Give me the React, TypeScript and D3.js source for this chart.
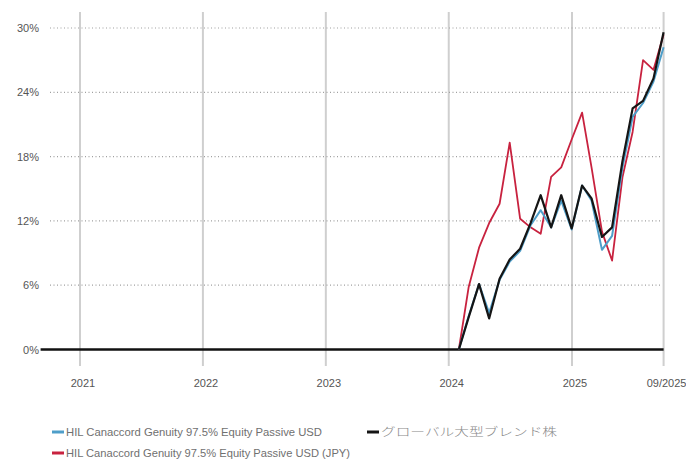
import { useEffect, useRef } from 'react';
import * as d3 from 'd3';

// month-end dates, Jan 2024 .. Sep 2025
const months: string[] = [
  '2024-01-31', '2024-02-29', '2024-03-31', '2024-04-30', '2024-05-31', '2024-06-30',
  '2024-07-31', '2024-08-31', '2024-09-30', '2024-10-31', '2024-11-30', '2024-12-31',
  '2025-01-31', '2025-02-28', '2025-03-31', '2025-04-30', '2025-05-31', '2025-06-30',
  '2025-07-31', '2025-08-31', '2025-09-30',
];

const fundUsd: number[] = [0, 3.1, 6.1, 3.4, 6.5, 8.2, 9.2, 11.6, 13.0, 11.4, 13.9, 11.2, 15.3, 13.9, 9.3, 10.6, 17.0, 21.7, 23.0, 25.0, 28.2];
const fundJpy: number[] = [0, 5.8, 9.5, 11.8, 13.6, 19.3, 12.2, 11.4, 10.8, 16.1, 17.0, 19.6, 22.1, 17.0, 11.0, 8.3, 16.1, 20.3, 27.0, 26.1, 29.4];
const peerGroup: number[] = [0, 3.0, 6.1, 2.9, 6.6, 8.4, 9.4, 11.8, 14.4, 11.4, 14.4, 11.3, 15.3, 14.1, 10.5, 11.4, 17.6, 22.5, 23.2, 25.3, 29.6];

const yTicks: number[] = [0, 6, 12, 18, 24, 30];
const xTicks: string[] = ['2021-01-01', '2022-01-01', '2023-01-01', '2024-01-01', '2025-01-01', '2025-09-30'];
const xTickLabels: string[] = ['2021', '2022', '2023', '2024', '2025', '09/2025'];

const legendNames = {
  usd: 'HIL Canaccord Genuity 97.5% Equity Passive USD',
  jpy: 'HIL Canaccord Genuity 97.5% Equity Passive USD (JPY)',
  peer: 'グローバル大型ブレンド株',
};

const App = () => {
  const ref = useRef<SVGSVGElement | null>(null);

  useEffect(() => {
    const width = 686;
    const height = 463;
    const font = '"Liberation Sans Narrow", "Liberation Sans", Arial, sans-serif';

    const svg = d3.select(ref.current);
    svg.selectAll('*').remove();
    svg.attr('width', width).attr('height', height);

    const parse = d3.utcParse('%Y-%m-%d');
    const x = d3.scaleUtc()
      .domain([parse('2021-01-01')!, parse('2025-01-01')!])
      .range([80, 572]);
    const y = d3.scaleLinear().domain([0, 30]).range([349.5, 28]);

    const xStart = x(parse('2020-09-06')!);
    const xEnd = x(parse('2025-09-30')!);

    // vertical grid (year lines)
    svg.append('g')
      .selectAll('line')
      .data(xTicks)
      .join('line')
      .attr('x1', d => x(parse(d)!))
      .attr('x2', d => x(parse(d)!))
      .attr('y1', 12)
      .attr('y2', 366)
      .attr('stroke', '#cfcfcf')
      .attr('stroke-width', 2);

    // horizontal dotted grid
    svg.append('g')
      .selectAll('line')
      .data(yTicks.filter(d => d > 0))
      .join('line')
      .attr('x1', 50)
      .attr('x2', xEnd - 2)
      .attr('y1', d => y(d))
      .attr('y2', d => y(d))
      .attr('stroke', '#a0a0a0')
      .attr('stroke-width', 1.2)
      .attr('stroke-dasharray', '1 2.5');

    // y labels
    svg.append('g')
      .selectAll('text')
      .data(yTicks)
      .join('text')
      .attr('x', 39)
      .attr('y', d => y(d) + 4)
      .attr('text-anchor', 'end')
      .attr('font-family', font)
      .attr('font-size', 11)
      .attr('fill', '#555')
      .text(d => `${d}%`);

    // x labels
    svg.append('g')
      .selectAll('text')
      .data(xTicks)
      .join('text')
      .attr('x', d => x(parse(d)!) + 3)
      .attr('y', 387)
      .attr('text-anchor', 'middle')
      .attr('font-family', font)
      .attr('font-size', 11)
      .attr('fill', '#555')
      .text((d, i) => xTickLabels[i]);

    // zero line
    svg.append('line')
      .attr('x1', xStart)
      .attr('x2', xEnd)
      .attr('y1', y(0))
      .attr('y2', y(0))
      .attr('stroke', '#111')
      .attr('stroke-width', 2.5);

    const dates = months.map(d => parse(d)!);
    const line = d3.line<number>()
      .x((d, i) => x(dates[i]))
      .y(d => y(d));

    const series = [
      { values: fundJpy, color: '#c8223f', w: 1.8 },
      { values: fundUsd, color: '#4e9ec9', w: 2 },
      { values: peerGroup, color: '#151515', w: 2.2 },
    ];
    series.forEach(s => {
      svg.append('path')
        .datum(s.values)
        .attr('d', line)
        .attr('fill', 'none')
        .attr('stroke', s.color)
        .attr('stroke-width', s.w)
        .attr('stroke-linejoin', 'round');
    });

    // legend
    const legend = [
      { name: legendNames.usd, color: '#4e9ec9', x: 52, y: 432, len: 256, cjk: false },
      { name: legendNames.peer, color: '#151515', x: 367, y: 432, len: 176, cjk: true },
      { name: legendNames.jpy, color: '#c8223f', x: 52, y: 453, len: 284, cjk: false },
    ];
    const lg = svg.append('g')
      .selectAll('g')
      .data(legend)
      .join('g')
      .attr('transform', d => `translate(${d.x},${d.y})`);
    lg.append('line')
      .attr('x1', 0)
      .attr('x2', 12)
      .attr('y1', 0)
      .attr('y2', 0)
      .attr('stroke', d => d.color)
      .attr('stroke-width', 3);
    lg.append('text')
      .attr('x', 14)
      .attr('y', 4)
      .attr('font-family', d => d.cjk ? '"Noto Sans CJK JP", sans-serif' : font)
      .attr('font-weight', d => d.cjk ? 300 : 400)
      .attr('font-size', 11)
      .attr('fill', d => d.cjk ? '#888' : '#707070')
      .attr('textLength', d => d.len)
      .attr('lengthAdjust', 'spacingAndGlyphs')
      .text(d => d.name);
  }, []);

  return (
    <svg ref={ref} style={{ position: 'absolute', left: 0, top: 0, background: '#fff' }}></svg>
  );
};

export default App;
